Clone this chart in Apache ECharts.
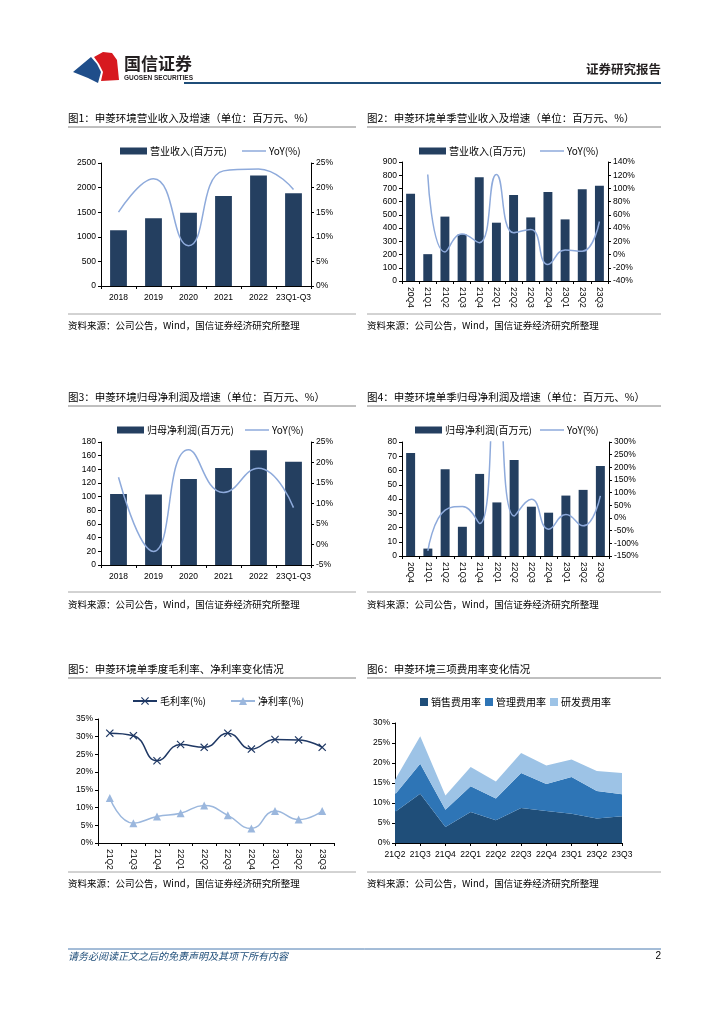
<!DOCTYPE html>
<html>
<head>
<meta charset="utf-8">
<script src="https://cdn.jsdelivr.net/npm/echarts@6/dist/echarts.min.js"></script>
<style>
html,body{margin:0;padding:0;background:#fff;}
#c{width:724px;height:1024px;}
</style>
</head>
<body>
<div id="c"></div>
<script>
// ---------- data ----------
const years = ['2018','2019','2020','2021','2022','23Q1-Q3'];
const revenueAnnual = [1135,1378,1490,1828,2248,1885];
const revenueAnnualYoY = [15.0,21.8,8.2,23.4,23.8,19.6];
const quarters12 = ['20Q4','21Q1','21Q2','21Q3','21Q4','22Q1','22Q2','22Q3','22Q4','23Q1','23Q2','23Q3'];
const revenueQ = [660,203,487,353,784,441,650,481,673,466,693,721];
const revenueQYoY = [null,121,4,31,18,121,33,38,-15,7,5,50];
const profitAnnual = [104,103,126,142,168,151];
const profitAnnualYoY = [16.4,-1.7,23.1,12.7,18.6,9.0];
const profitQ = [72.2,5.2,60.9,20.5,57.6,37.6,67.3,34.6,30.4,42.4,46.4,63.1];
const profitQYoY = [null,-130,31,45,-22,620,8,74,-44,14,-31,87];
const quarters10 = ['21Q2','21Q3','21Q4','22Q1','22Q2','22Q3','22Q4','23Q1','23Q2','23Q3'];
const grossMargin = [31.0,30.3,23.2,27.8,27.0,31.0,26.5,29.2,29.1,27.0];
const netMargin = [12.7,5.6,7.5,8.4,10.6,7.8,4.1,9.0,6.6,9.0];
const salesExpRate = [7.75,12.3,4.0,7.75,5.7,8.75,8.0,7.3,6.1,6.7];
const mgmtExpRate = [4.35,7.5,4.3,6.45,5.4,8.75,6.75,9.2,6.9,5.5];
const rdExpRate = [3.7,6.9,3.6,4.8,4.3,5.0,4.65,4.4,5.0,5.3];

// ---------- styles ----------
const NAVY = '#243f60';
const LIGHT = '#8eaadb';
const CJK = '"Noto Sans CJK SC", sans-serif';
const LAT = '"Liberation Sans", Arial, sans-serif';
const tickLabel = {fontSize: 8.5, color: '#000', fontFamily: LAT, margin: 5};
const axLine = {show: true, lineStyle: {color: '#000', width: 1}};
const axTick = {show: true, length: 3, lineStyle: {color: '#000'}};

function xCat(grid, data, opts) {
  return Object.assign({
    type: 'category', gridIndex: grid, data: data,
    axisLine: axLine, axisTick: axTick,
    axisLabel: Object.assign({}, tickLabel, {interval: 0, margin: 7}),
    splitLine: {show: false}
  }, opts || {});
}
const plain = v => String(v);
const pct = v => v + '%';
function yVal(grid, min, max, interval, pos, fmt) {
  return {
    type: 'value', gridIndex: grid, min: min, max: max, interval: interval, position: pos,
    axisLine: axLine, axisTick: axTick,
    axisLabel: Object.assign({}, tickLabel, {formatter: fmt || plain}),
    splitLine: {show: false}
  };
}

function legendItem(left, top, name, w, h, icon) {
  const l = {left: left, top: top, itemWidth: w, itemHeight: h, itemGap: 0,
    textStyle: {fontSize: 10, color: '#000', fontFamily: CJK, padding: [0, 0, 0, -2]},
    data: [name], selectedMode: false};
  if (icon) l.icon = icon;
  return l;
}

const crossPath = 'path://M0,1L1,0L5,4L9,0L10,1L6,5L10,9L9,10L5,6L1,10L0,9L4,5Z';

// ---------- graphics ----------
const g = [];
function txt(x, y, s, font, fill, align) {
  g.push({type: 'text', x: x, y: y, silent: true,
    style: {text: s, font: font, fill: fill || '#000', textAlign: align || 'left', textVerticalAlign: 'middle'}});
}
function ln(x1, y1, x2, y2, c, w) {
  g.push({type: 'line', silent: true, shape: {x1: x1, y1: y1, x2: x2, y2: y2}, style: {stroke: c, lineWidth: w || 1}});
}
// logo
g.push({type: 'polygon', silent: true, shape: {points: [[94,57],[103,52],[112,53],[117,60],[119,80],[101,81],[103,72],[99,64]]}, style: {fill: '#d7191f'}});
g.push({type: 'polygon', silent: true, shape: {points: [[73,72],[91,57],[97,64],[101,72],[98,83],[88,78]]}, style: {fill: '#1f4e8a'}});
txt(124, 64, '国信证券', 'bold 17px ' + CJK, '#231f20');
txt(124, 78, 'GUOSEN SECURITIES', 'bold 6.5px ' + LAT, '#231f20');
txt(661, 69, '证券研究报告', 'bold 12.5px ' + CJK, '#231f20', 'right');
ln(184, 83, 661, 83, '#1f4e79', 2);

const titles = [
  [68, 118, '图1：申菱环境营业收入及增速（单位：百万元、%）'],
  [367, 118, '图2：申菱环境单季营业收入及增速（单位：百万元、%）'],
  [68, 397, '图3：申菱环境归母净利润及增速（单位：百万元、%）'],
  [367, 397, '图4：申菱环境单季归母净利润及增速（单位：百万元、%）'],
  [68, 669, '图5：申菱环境单季度毛利率、净利率变化情况'],
  [367, 669, '图6：申菱环境三项费用率变化情况']
];
titles.forEach(t => txt(t[0], t[1], t[2], '10.5px ' + CJK, '#000'));
[127, 406, 678].forEach(y => { ln(68, y, 356, y, '#808080', 1); ln(367, y, 661, y, '#808080', 1); });
[314, 592, 872].forEach(y => { ln(68, y, 356, y, '#a6a6a6', 1); ln(367, y, 661, y, '#a6a6a6', 1); });
[325, 604, 883].forEach(y => {
  txt(68, y, '资料来源：公司公告，Wind，国信证券经济研究所整理', '9.5px ' + CJK, '#000');
  txt(367, y, '资料来源：公司公告，Wind，国信证券经济研究所整理', '9.5px ' + CJK, '#000');
});
ln(68, 949, 661, 949, '#4a7ab0', 1);
txt(68, 956, '请务必阅读正文之后的免责声明及其项下所有内容', 'italic 10px ' + CJK, '#1f4e79');
txt(661, 956, '2', '10px ' + LAT, '#000', 'right');

const lineIcon = 'rect';

// ---------- option ----------
const option = {
  animation: false,
  backgroundColor: '#fff',
  graphic: {elements: g},
  grid: [
    {left: 101, top: 163, width: 210, height: 123},
    {left: 402, top: 162, width: 206, height: 119},
    {left: 101, top: 442, width: 210, height: 123},
    {left: 402, top: 442, width: 207, height: 114},
    {left: 98, top: 719, width: 236, height: 124},
    {left: 395, top: 723, width: 227, height: 120}
  ],
  legend: [
    legendItem(115, 141, '营业收入(百万元)', 27, 7, 'rect'),
    legendItem(237, 141, 'YoY(%)', 24, 1.5, lineIcon),
    legendItem(414, 141, '营业收入(百万元)', 27, 7, 'rect'),
    legendItem(535, 141, 'YoY(%)', 24, 1.5, lineIcon),
    legendItem(112, 420, '归母净利润(百万元)', 27, 7, 'rect'),
    legendItem(240, 420, 'YoY(%)', 24, 1.5, lineIcon),
    legendItem(410, 420, '归母净利润(百万元)', 27, 7, 'rect'),
    legendItem(535, 420, 'YoY(%)', 24, 1.5, lineIcon),
    legendItem(127, 691, '毛利率(%)', 24, 10),
    legendItem(225, 691, '净利率(%)', 24, 10),
    {left: 415, top: 692, itemWidth: 8, itemHeight: 8, itemGap: 4, icon: 'rect', selectedMode: false,
      textStyle: {fontSize: 10, color: '#000', fontFamily: CJK, padding: [0, 0, 0, -2]},
      data: ['销售费用率', '管理费用率', '研发费用率']}
  ],
  xAxis: [
    xCat(0, years),
    xCat(1, quarters12, {axisLabel: Object.assign({}, tickLabel, {interval: 0, rotate: -90, margin: 6})}),
    xCat(2, years),
    xCat(3, quarters12, {axisLabel: Object.assign({}, tickLabel, {interval: 0, rotate: -90, margin: 6})}),
    xCat(4, quarters10, {axisLabel: Object.assign({}, tickLabel, {interval: 0, rotate: -90, margin: 6})}),
    xCat(5, quarters10, {boundaryGap: false, axisLabel: Object.assign({}, tickLabel, {interval: 0, margin: 7})})
  ],
  yAxis: [
    yVal(0, 0, 2500, 500, 'left'),
    yVal(0, 0, 25, 5, 'right', pct),
    yVal(1, 0, 900, 100, 'left'),
    yVal(1, -40, 140, 20, 'right', pct),
    yVal(2, 0, 180, 20, 'left'),
    yVal(2, -5, 25, 5, 'right', pct),
    yVal(3, 0, 80, 10, 'left'),
    yVal(3, -150, 300, 50, 'right', pct),
    yVal(4, 0, 35, 5, 'left', pct),
    yVal(5, 0, 30, 5, 'left', pct)
  ],
  series: [
    {type: 'bar', name: '营业收入(百万元)', xAxisIndex: 0, yAxisIndex: 0, data: revenueAnnual, barWidth: '48%', itemStyle: {color: NAVY}},
    {type: 'line', name: 'YoY(%)', xAxisIndex: 0, yAxisIndex: 1, data: revenueAnnualYoY, smooth: true, symbol: 'none', lineStyle: {color: LIGHT, width: 1.5}, itemStyle: {color: LIGHT}},
    {type: 'bar', name: '营业收入(百万元)', xAxisIndex: 1, yAxisIndex: 2, data: revenueQ, barWidth: '52%', itemStyle: {color: NAVY}},
    {type: 'line', name: 'YoY(%)', xAxisIndex: 1, yAxisIndex: 3, data: revenueQYoY, smooth: true, symbol: 'none', lineStyle: {color: LIGHT, width: 1.5}, itemStyle: {color: LIGHT}},
    {type: 'bar', name: '归母净利润(百万元)', xAxisIndex: 2, yAxisIndex: 4, data: profitAnnual, barWidth: '48%', itemStyle: {color: NAVY}},
    {type: 'line', name: 'YoY(%)', xAxisIndex: 2, yAxisIndex: 5, data: profitAnnualYoY, smooth: true, symbol: 'none', lineStyle: {color: LIGHT, width: 1.5}, itemStyle: {color: LIGHT}},
    {type: 'bar', name: '归母净利润(百万元)', xAxisIndex: 3, yAxisIndex: 6, data: profitQ, barWidth: '52%', itemStyle: {color: NAVY}},
    {type: 'line', name: 'YoY(%)', xAxisIndex: 3, yAxisIndex: 7, data: profitQYoY, smooth: true, symbol: 'none', clip: true, lineStyle: {color: LIGHT, width: 1.5}, itemStyle: {color: LIGHT}},
    {type: 'line', name: '毛利率(%)', xAxisIndex: 4, yAxisIndex: 8, data: grossMargin, smooth: true, symbol: crossPath, symbolSize: 8, lineStyle: {color: '#1f3864', width: 1.5}, itemStyle: {color: '#1f3864'}},
    {type: 'line', name: '净利率(%)', xAxisIndex: 4, yAxisIndex: 8, data: netMargin, smooth: true, symbol: 'triangle', symbolSize: 8, lineStyle: {color: '#9bb7dd', width: 1.5}, itemStyle: {color: '#9bb7dd'}},
    {type: 'line', name: '销售费用率', xAxisIndex: 5, yAxisIndex: 9, data: salesExpRate, stack: 'exp', symbol: 'none', lineStyle: {width: 0}, areaStyle: {color: '#1f4e79', opacity: 1}, itemStyle: {color: '#1f4e79'}},
    {type: 'line', name: '管理费用率', xAxisIndex: 5, yAxisIndex: 9, data: mgmtExpRate, stack: 'exp', symbol: 'none', lineStyle: {width: 0}, areaStyle: {color: '#2e75b6', opacity: 1}, itemStyle: {color: '#2e75b6'}},
    {type: 'line', name: '研发费用率', xAxisIndex: 5, yAxisIndex: 9, data: rdExpRate, stack: 'exp', symbol: 'none', lineStyle: {width: 0}, areaStyle: {color: '#9dc3e6', opacity: 1}, itemStyle: {color: '#9dc3e6'}}
  ]
};
const chart = echarts.init(document.getElementById('c'), null, {renderer: 'canvas'});
chart.setOption(option);
</script>
</body>
</html>
